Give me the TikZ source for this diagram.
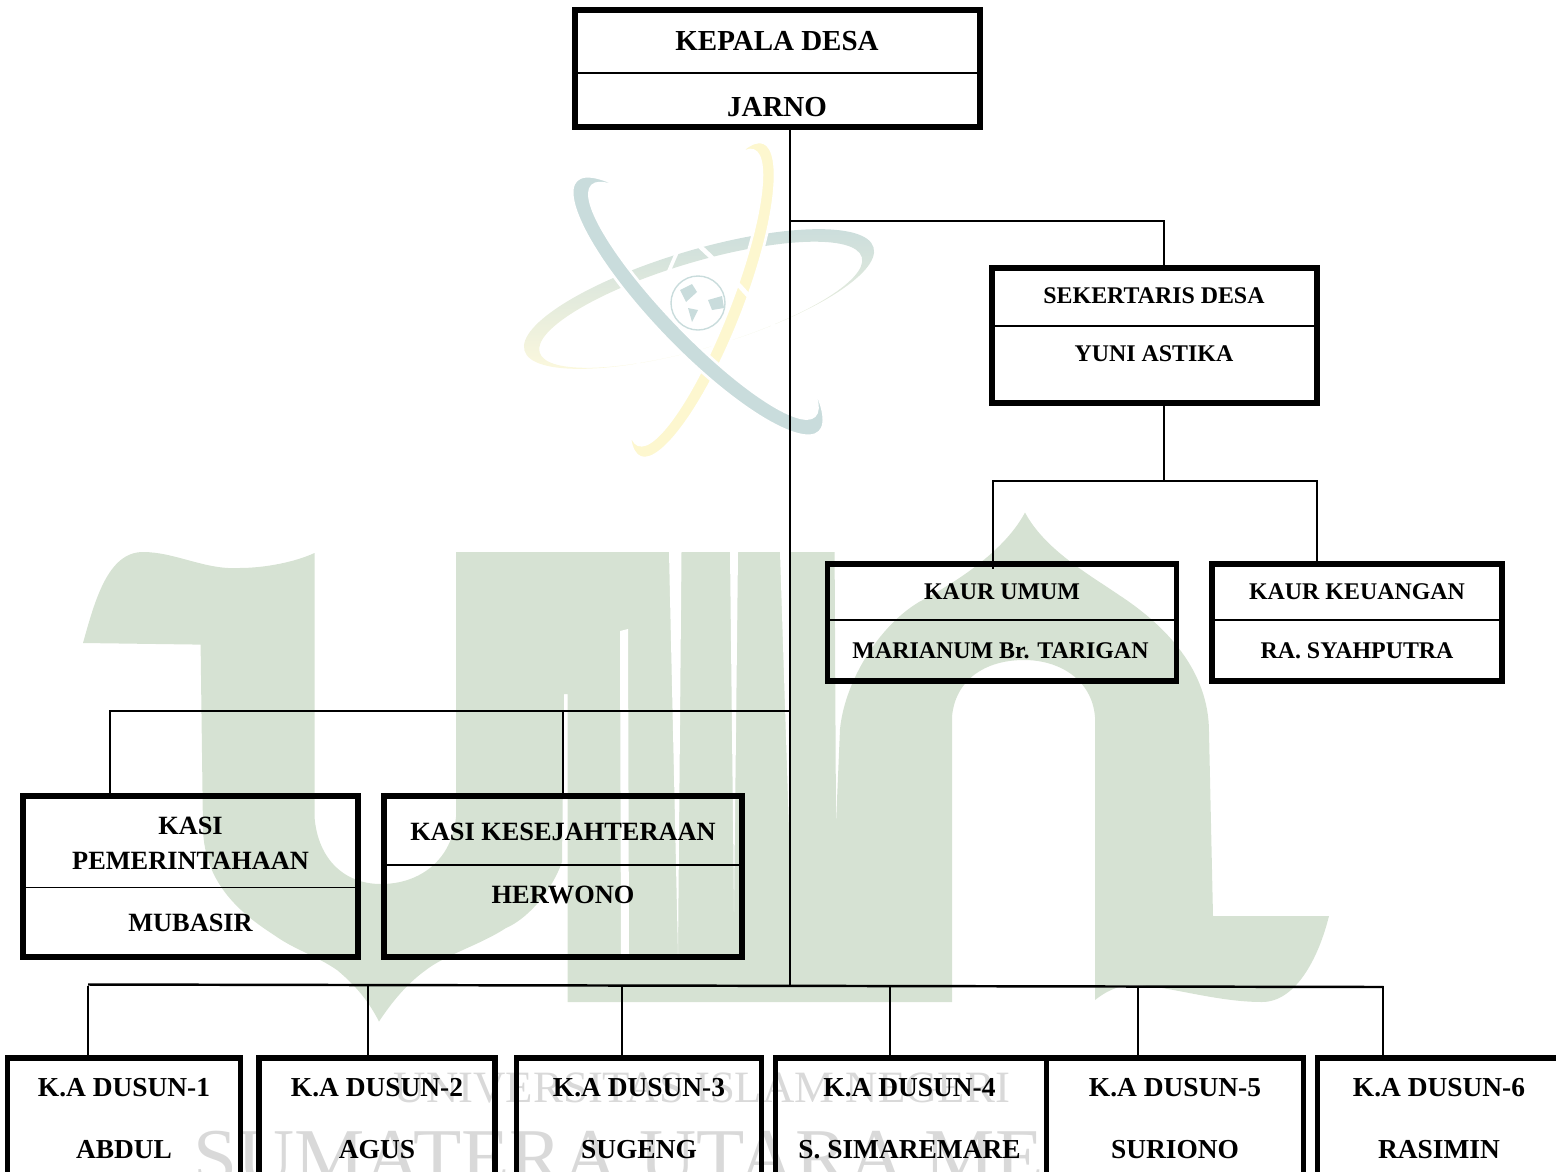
\documentclass[tikz,border=0pt]{standalone}
\usepackage{fontspec}
\setmainfont{Liberation Serif}
\definecolor{logogreen}{HTML}{D6E2D3}
\definecolor{atomteal}{HTML}{C9DCDC}
\definecolor{atomyellow}{HTML}{FDF7CF}
\definecolor{markgray}{HTML}{D9D9D9}

\begin{document}
\begin{tikzpicture}[x=0.02cm,y=-0.02cm,
    orgbox/.style={draw,line width=2.9pt,outer sep=0pt,inner sep=0pt},
    divider/.style={line width=1.1pt},
    conn/.style={line width=1.1pt},
    bigtext/.style={inner sep=0pt,anchor=base,font=\fontsize{16.5}{20}\selectfont\bfseries},
    midtext/.style={inner sep=0pt,anchor=base,font=\fontsize{13.6}{17}\selectfont\bfseries},
    kasitext/.style={inner sep=0pt,anchor=base,align=center,font=\fontsize{15}{19.8}\selectfont\bfseries},
    dusuntext/.style={inner sep=0pt,anchor=base,font=\fontsize{15.6}{19}\selectfont\bfseries},
    ]
    \useasboundingbox (0,0) rectangle (1556,1171);
    \clip (0,0) rectangle (1556,1171);

    % Logo behind the chart
    \fill[logogreen] (83,643) .. controls (95,600) and (108,552) .. (143,552)
        .. controls (175,552) and (205,570) .. (239,568)
        .. controls (265,568) and (295,562) .. (314.5,553) -- (314.5,817)
        .. controls (318,860) and (345,884) .. (381,884)
        .. controls (420,884) and (452,860) .. (456,817) -- (456,552) -- (834.6,552)
        -- (836,824) -- (840,729)
        .. controls (845,680) and (880,625) .. (919,602)
        .. controls (960,580) and (1005,550) .. (1025,512.5)
        .. controls (1045,550) and (1090,575) .. (1119,595)
        .. controls (1165,625) and (1209,670) .. (1209,732) -- (1213,916) -- (1329,916)
        .. controls (1318,960) and (1295,1002) .. (1262,1002)
        .. controls (1215,1002) and (1165,985) .. (1133,985)
        .. controls (1118,985) and (1105,992) .. (1095,1000) -- (1095,717)
        .. controls (1092,680) and (1060,660) .. (1024,660)
        .. controls (985,660) and (955,680) .. (952,717)
        -- (952,1002) -- (567.6,1002) -- (567.6,694) -- (564,694) -- (562,862)
        .. controls (550,895) and (525,920) .. (506,928)
        .. controls (480,945) and (445,955) .. (426,970)
        .. controls (405,985) and (390,1005) .. (379,1021.5)
        .. controls (368,1000) and (355,985) .. (337,970)
        .. controls (315,955) and (295,950) .. (274,935)
        .. controls (235,910) and (205,880) .. (203,830) -- (200.6,644.6) -- cycle;
    \fill[white] (620,631) -- (628,629) -- (629,955) -- (621,955) -- cycle;
    \fill[white] (669,552) -- (681.5,552) -- (678,955) -- cycle;
    \fill[white] (730,552) -- (738,552) -- (734,912) -- cycle;
    \fill[white] (780,552) -- (789,552) -- (789,830) -- cycle;

    % Atom
    \begin{scope}[shift={(699,299)},rotate=16.5]
        \shade[even odd rule,top color=atomteal,bottom color=atomyellow!70]
            (0,0) ellipse [x radius=182,y radius=49] (0,6) ellipse [x radius=168,y radius=43];
    \end{scope}
    \begin{scope}[shift={(702,300)},rotate=68.6]
        \filldraw[even odd rule,fill=atomyellow,draw=white,line width=1.5pt]
            (0,0) ellipse [x radius=169,y radius=42] (0,-6.5) ellipse [x radius=158,y radius=34.5];
    \end{scope}
    \begin{scope}[shift={(698,306)},rotate=-46]
        \filldraw[even odd rule,fill=atomteal,draw=white,line width=1.5pt]
            (0,0) ellipse [x radius=175,y radius=45] (0,-7.5) ellipse [x radius=160,y radius=35.5];
    \end{scope}
    \draw[atomteal,line width=0.8pt] (698,303) circle [radius=27];
    \fill[atomteal] (680,290) -- (692,284) -- (697,292) -- (686,302) -- cycle;
    \fill[atomteal] (688,308) -- (698,310) -- (692,322) -- cycle;
    \fill[atomteal] (708,300) -- (722,296) -- (724,308) -- (712,310) -- cycle;

    % Text of the mark
    \node[inner sep=0pt,anchor=base,text=markgray,font=\fontsize{25.5}{30}\selectfont] (univ) at (702,1102) {UNIVERSITAS ISLAM NEGERI};
    \node[inner sep=0pt,anchor=base west,text=markgray,font=\fontsize{45}{50}\selectfont] (sumut) at (193,1183) {SUMATERA UTARA MEDAN};

    % Boxes
    \node[orgbox,minimum width=8.1cm,minimum height=2.34cm] (kepala) at (777.5,68.5) {};
    \node[orgbox,minimum width=6.5cm,minimum height=2.7cm] (sekdes) at (1154.5,335.5) {};
    \node[orgbox,minimum width=6.99cm,minimum height=2.34cm] (umum) at (1002,622.5) {};
    \node[orgbox,minimum width=5.8cm,minimum height=2.34cm] (uang) at (1357,622.5) {};
    \node[orgbox,minimum width=6.7cm,minimum height=3.22cm] (pem) at (190.5,876.5) {};
    \node[orgbox,minimum width=7.16cm,minimum height=3.22cm] (kes) at (563,876.5) {};
    \foreach \n/\cx/\bw/\bg in {1/124/4.66/none,2/377/4.72/none,3/639/4.9/none,4/911/5.41/none,5/1175/5.15/white,6/1439/4.87/none}
        \node[orgbox,fill=\bg,minimum width=\bw cm,minimum height=2.84cm] (dusun\n) at (\cx,1129) {};

    % Dividers
    \draw[divider] (kepala.west |- 0,73) -- (kepala.east |- 0,73);
    \draw[divider] (sekdes.west |- 0,326) -- (sekdes.east |- 0,326);
    \draw[divider] (umum.west |- 0,620) -- (umum.east |- 0,620);
    \draw[divider] (uang.west |- 0,620) -- (uang.east |- 0,620);
    \draw[divider] (pem.west |- 0,887.5) -- (pem.east |- 0,887.5);
    \draw[divider] (kes.west |- 0,865) -- (kes.east |- 0,865);

    % Labels
    \node[bigtext] (kepala title) at (777,50) {KEPALA DESA};
    \node[bigtext] (kepala name) at (777,116) {JARNO};
    \node[midtext] (sekdes title) at (1154,303) {SEKERTARIS DESA};
    \node[midtext] (sekdes name) at (1154,361) {YUNI ASTIKA};
    \node[midtext] (umum title) at (1002,599) {KAUR UMUM};
    \node[midtext] (umum name) at (1000.5,658) {MARIANUM Br. TARIGAN};
    \node[midtext] (uang title) at (1357,599) {KAUR KEUANGAN};
    \node[midtext] (uang name) at (1357,658) {RA. SYAHPUTRA};
    \node[kasitext,anchor=center] (pem title) at (190.5,843) {KASI\\PEMERINTAHAAN};
    \node[kasitext] (pem name) at (190.5,931) {MUBASIR};
    \node[kasitext] (kes title) at (563,840) {KASI KESEJAHTERAAN};
    \node[kasitext] (kes name) at (563,903) {HERWONO};
    \foreach \n/\cx/\who in {1/124/ABDUL,2/377/AGUS,3/639/SUGENG,4/909.5/S. SIMAREMARE,5/1175/SURIONO,6/1439/RASIMIN} {
        \node[dusuntext] (dusun\n title) at (\cx,1096) {K.A DUSUN-\n};
        \node[dusuntext] (dusun\n name) at (\cx,1158) {\who};
    }

    % Junctions and drops
    \coordinate (trunk top) at (790,127);
    \coordinate (trunk sek) at (790,221);
    \coordinate (trunk kasi) at (790,711);
    \coordinate (trunk end) at (790,985.5);
    \coordinate (sek in) at (1164,268);
    \coordinate (sek out) at (1164,403);
    \coordinate (sek split) at (1164,481);
    \coordinate (umum in) at (993,569);
    \coordinate (uang in) at (1317,565);
    \coordinate (pem in) at (110,797);
    \coordinate (kes in) at (563,797);
    \coordinate (bus left) at (88,984.5);
    \coordinate (bus right) at (1383,987);

    % Connectors
    \draw[conn] (trunk top) -- (trunk end);
    \draw[conn] (trunk sek) -| (sek in);
    \draw[conn] (sek out) -- (sek split);
    \draw[conn] (sek split) -| (umum in);
    \draw[conn] (sek split) -| (uang in);
    \draw[conn] (trunk kasi) -| (pem in);
    \draw[conn] (kes in |- trunk kasi) -- (kes in);
    \draw[conn,line width=1.4pt] (bus left) -- (bus right);
    \foreach \n/\dx in {1/88,2/368,3/622,4/890,5/1138,6/1383} {
        \coordinate (drop\n) at (\dx,1058);
        \draw[conn] (drop\n |- trunk end) -- (drop\n);
    }
\end{tikzpicture}
\end{document}
